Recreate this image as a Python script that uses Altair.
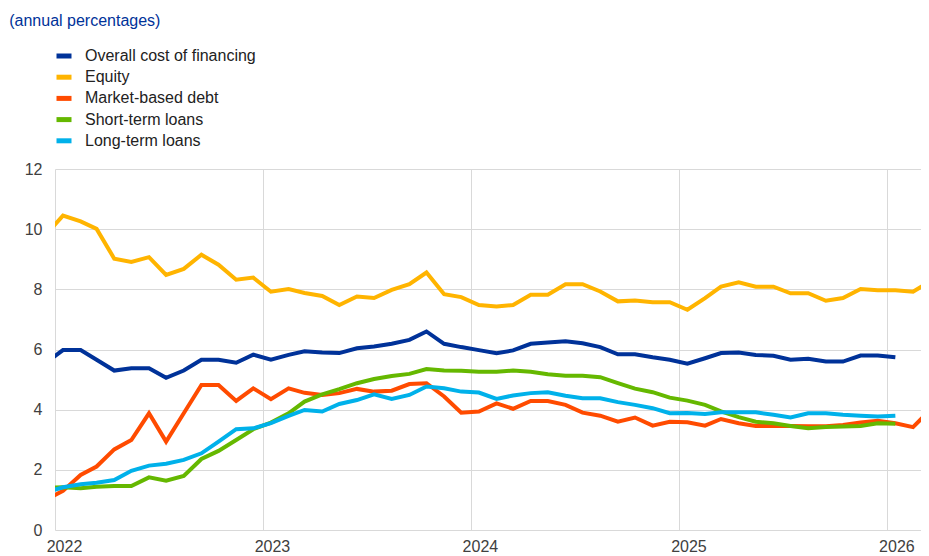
import altair as alt
import pandas as pd

# monthly observations (mid-month), Dec 2021 .. Mar 2026
months = ["2021-12-15"] + [f"{y}-{m:02d}-15" for y in range(2022, 2026) for m in range(1, 13)] + \
         ["2026-01-15", "2026-02-15", "2026-03-15"]

series_names = ["Overall cost of financing", "Equity", "Market-based debt",
                "Short-term loans", "Long-term loans"]
colors = ["#003299", "#FFB400", "#FF4B00", "#65B800", "#00B1EA"]

overall = [5.55,
           5.98, 5.98, 5.66, 5.30, 5.38, 5.38, 5.06, 5.30, 5.66, 5.66, 5.56, 5.83,
           5.66, 5.82, 5.94, 5.90, 5.88, 6.04, 6.10, 6.19, 6.32, 6.60, 6.19, 6.08,
           5.98, 5.88, 5.97, 6.19, 6.23, 6.27, 6.21, 6.08, 5.84, 5.84, 5.74, 5.66,
           5.53, 5.71, 5.88, 5.90, 5.82, 5.79, 5.66, 5.69, 5.60, 5.60, 5.80, 5.80,
           5.74, None, None]
equity = [9.80,
          10.45, 10.26, 10.01, 9.02, 8.91, 9.07, 8.48, 8.68, 9.15, 8.82, 8.32, 8.39,
          7.92, 8.01, 7.88, 7.78, 7.48, 7.76, 7.71, 7.98, 8.17, 8.56, 7.84, 7.74,
          7.48, 7.43, 7.48, 7.82, 7.82, 8.17, 8.17, 7.93, 7.60, 7.63, 7.57, 7.57,
          7.32, 7.71, 8.09, 8.23, 8.09, 8.09, 7.87, 7.87, 7.62, 7.71, 8.01, 7.97,
          7.97, 7.92, 8.25]
market_debt = [1.00,
               1.30, 1.83, 2.11, 2.68, 2.99, 3.88, 2.94, 3.88, 4.82, 4.82, 4.29, 4.71,
               4.35, 4.71, 4.56, 4.49, 4.55, 4.69, 4.60, 4.63, 4.85, 4.88, 4.44, 3.90,
               3.94, 4.21, 4.03, 4.29, 4.29, 4.16, 3.90, 3.80, 3.60, 3.74, 3.47, 3.60,
               3.58, 3.47, 3.69, 3.55, 3.46, 3.46, 3.46, 3.45, 3.45, 3.49, 3.57, 3.63,
               3.55, 3.42, 3.95]
short_loans = [1.40,
               1.42, 1.39, 1.44, 1.46, 1.46, 1.75, 1.64, 1.80, 2.36, 2.63, 2.99, 3.35,
               3.57, 3.88, 4.27, 4.51, 4.68, 4.88, 5.02, 5.12, 5.19, 5.35, 5.30, 5.29,
               5.26, 5.26, 5.30, 5.26, 5.18, 5.13, 5.13, 5.08, 4.88, 4.70, 4.58, 4.40,
               4.30, 4.16, 3.94, 3.75, 3.60, 3.55, 3.46, 3.38, 3.42, 3.44, 3.46, 3.55,
               3.53, None, None]
long_loans = [1.25,
              1.42, 1.52, 1.57, 1.66, 1.97, 2.14, 2.20, 2.33, 2.55, 2.94, 3.35, 3.38,
              3.55, 3.79, 3.99, 3.94, 4.19, 4.32, 4.51, 4.36, 4.49, 4.77, 4.71, 4.60,
              4.57, 4.36, 4.47, 4.55, 4.58, 4.46, 4.38, 4.38, 4.25, 4.16, 4.05, 3.88,
              3.89, 3.86, 3.91, 3.91, 3.91, 3.83, 3.74, 3.88, 3.88, 3.83, 3.80, 3.77,
              3.80, None, None]

y_ticks = [0, 2, 4, 6, 8, 10, 12]
x_years = [2022, 2023, 2024, 2025, 2026]

rows = []
for name, vals in zip(series_names, [overall, equity, market_debt, short_loans, long_loans]):
    for d, v in zip(months, vals):
        if v is not None:
            rows.append({"date": d, "series": name, "value": v})
df = pd.DataFrame(rows)

FONT = "Liberation Sans"

chart = alt.Chart(df).mark_line(strokeWidth=4, clip=True).encode(
    x=alt.X("date:T",
            scale=alt.Scale(type="utc",
                            domain=[alt.DateTime(year=2022, month=1, date=1, utc=True),
                                    alt.DateTime(year=2026, month=3, date=1, utc=True)]),
            axis=alt.Axis(title=None, format="%Y",
                          values=[alt.DateTime(year=y, month=1, date=1, utc=True) for y in x_years],
                          labelOffset=9, labelFlush=False, labelPadding=8,
                          labelFontSize=16, labelFont=FONT, labelColor="#404040",
                          domain=False, ticks=False, grid=True,
                          gridColor="#d9d9d9", gridWidth=1)),
    y=alt.Y("value:Q",
            scale=alt.Scale(domain=[0, 12], nice=False, zero=True),
            axis=alt.Axis(title=None, values=y_ticks, labelPadding=13,
                          labelFontSize=16, labelFont=FONT, labelColor="#404040",
                          domain=False, ticks=False, grid=True,
                          gridColor="#d9d9d9", gridWidth=1)),
    color=alt.Color("series:N",
                    scale=alt.Scale(domain=series_names, range=colors),
                    legend=alt.Legend(title=None, orient="none", legendX=-1, legendY=-123,
                                      direction="vertical", symbolType="stroke",
                                      symbolStrokeWidth=5, symbolSize=225,
                                      labelFontSize=16, labelFont=FONT, labelColor="#222222",
                                      labelLimit=400,
                                      rowPadding=1.2, labelOffset=11, padding=0)),
).properties(
    width=866, height=361,
    title=alt.Title("(annual percentages)", anchor="start", fontSize=16, font=FONT,
                    color="#003299", fontWeight="normal", dx=-15, dy=-13),
    autosize=alt.AutoSizeParams(type="none"),
    padding={"left": 47, "top": 161, "right": 0, "bottom": 24},
).configure_view(stroke=None)

chart.save("out.html", embed_options={"renderer": "svg", "actions": False})
